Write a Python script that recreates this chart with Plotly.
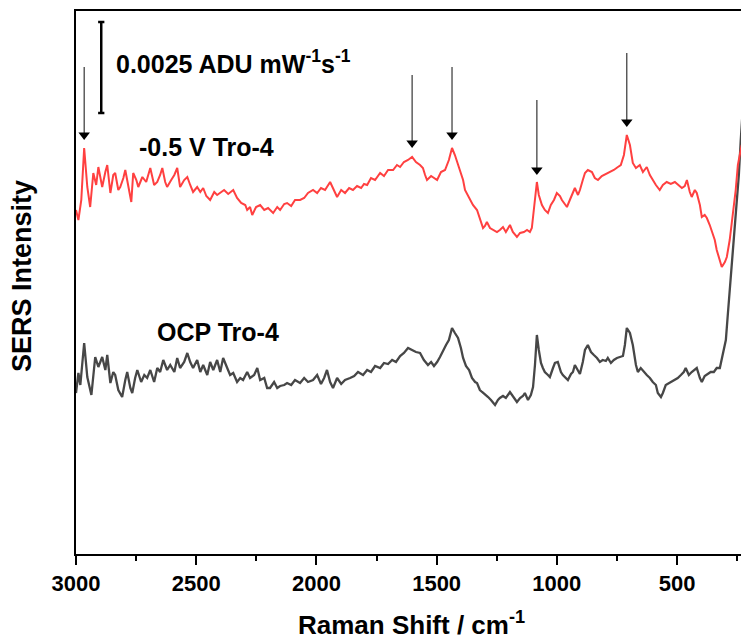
import plotly.graph_objects as go

# ---- data (Raman shift in cm^-1, intensity in arbitrary units; scale bar = 91 units = 0.0025 ADU mW^-1 s^-1)
red_points = [
    (3000, 344), (2990, 334), (2978, 354), (2966, 406), (2953, 367), (2941, 347), (2928, 381), (2916, 369),
    (2907, 387), (2891, 367), (2878, 382), (2870, 389), (2857, 361), (2845, 379), (2837, 381), (2824, 364),
    (2816, 367), (2803, 376), (2795, 384), (2783, 369), (2770, 352), (2762, 381), (2749, 374), (2741, 367),
    (2724, 377), (2708, 372), (2691, 386), (2675, 369), (2662, 372), (2650, 379), (2641, 386), (2629, 372),
    (2621, 367), (2604, 374), (2591, 379), (2579, 386), (2567, 367), (2550, 374), (2537, 377), (2525, 369),
    (2513, 362), (2496, 367), (2483, 362), (2471, 366), (2458, 358), (2442, 354), (2425, 362), (2413, 359),
    (2400, 361), (2384, 364), (2367, 360), (2346, 364), (2330, 356), (2313, 351), (2296, 349), (2288, 344),
    (2276, 347), (2267, 339), (2251, 347), (2234, 349), (2217, 344), (2201, 346), (2180, 341), (2163, 347),
    (2151, 344), (2134, 350), (2122, 351), (2105, 348), (2089, 354), (2068, 354), (2051, 356), (2035, 361),
    (2014, 364), (1997, 361), (1981, 366), (1964, 364), (1943, 372), (1926, 364), (1914, 357), (1897, 364),
    (1881, 361), (1864, 366), (1848, 364), (1831, 368), (1814, 366), (1802, 370), (1789, 369), (1773, 376),
    (1756, 374), (1735, 381), (1719, 378), (1702, 384), (1681, 384), (1665, 389), (1652, 387), (1636, 392),
    (1619, 394), (1602, 397), (1586, 392), (1569, 389), (1557, 386), (1548, 379), (1540, 374), (1523, 378),
    (1511, 376), (1498, 374), (1482, 382), (1465, 384), (1449, 394), (1436, 406), (1424, 399), (1411, 389),
    (1403, 384), (1390, 374), (1382, 364), (1370, 359), (1361, 354), (1349, 349), (1332, 344), (1320, 336),
    (1307, 326), (1299, 328), (1291, 332), (1278, 326), (1266, 324), (1249, 322), (1237, 324), (1224, 327),
    (1212, 322), (1195, 329), (1183, 322), (1166, 317), (1153, 321), (1137, 322), (1124, 324), (1112, 322),
    (1104, 326), (1095, 344), (1083, 372), (1075, 359), (1062, 349), (1050, 344), (1037, 341), (1025, 349),
    (1012, 354), (1000, 361), (987, 358), (979, 354), (966, 349), (958, 347), (946, 354), (933, 362),
    (925, 366), (912, 359), (904, 364), (892, 374), (883, 381), (871, 384), (854, 382), (842, 376),
    (829, 374), (813, 378), (796, 380), (779, 382), (763, 384), (746, 387), (734, 389), (721, 399),
    (709, 419), (696, 409), (684, 391), (671, 386), (655, 389), (642, 382), (626, 387), (613, 379),
    (601, 374), (588, 369), (572, 364), (559, 369), (543, 372), (526, 370), (509, 372), (493, 369),
    (480, 366), (468, 368), (459, 374), (447, 362), (439, 357), (426, 364), (418, 361), (405, 349),
    (397, 337), (385, 339), (376, 336), (364, 329), (356, 324), (343, 314), (335, 304), (322, 294),
    (314, 287), (301, 292), (293, 297), (281, 314), (268, 339), (256, 364), (247, 389), (239, 399),
    (231, 409),
]

gray_points = [
    (3000, 161), (2990, 181), (2982, 169), (2974, 194), (2966, 211), (2953, 177), (2936, 159), (2920, 197),
    (2907, 187), (2891, 197), (2878, 184), (2870, 199), (2857, 171), (2845, 182), (2837, 179), (2824, 164),
    (2808, 157), (2795, 174), (2787, 182), (2774, 166), (2766, 161), (2754, 176), (2745, 184), (2729, 172),
    (2716, 179), (2704, 176), (2691, 184), (2675, 172), (2662, 186), (2650, 182), (2637, 194), (2621, 184),
    (2608, 189), (2591, 182), (2579, 196), (2567, 186), (2550, 192), (2537, 201), (2525, 192), (2513, 186),
    (2496, 194), (2483, 182), (2471, 189), (2454, 179), (2442, 192), (2429, 184), (2413, 194), (2400, 182),
    (2388, 196), (2371, 186), (2359, 179), (2346, 181), (2330, 172), (2317, 176), (2305, 174), (2288, 182),
    (2276, 176), (2259, 179), (2246, 186), (2234, 174), (2217, 176), (2205, 166), (2193, 166), (2176, 172),
    (2163, 166), (2151, 168), (2134, 169), (2122, 171), (2105, 169), (2089, 174), (2068, 171), (2051, 176),
    (2035, 172), (2014, 174), (1997, 179), (1981, 170), (1968, 176), (1956, 184), (1943, 172), (1931, 166),
    (1914, 176), (1897, 170), (1881, 174), (1860, 176), (1843, 178), (1827, 182), (1806, 179), (1789, 184),
    (1773, 182), (1756, 188), (1735, 186), (1719, 191), (1702, 190), (1685, 194), (1669, 192), (1652, 198),
    (1636, 201), (1619, 206), (1602, 204), (1586, 202), (1569, 201), (1553, 194), (1536, 189), (1523, 192),
    (1511, 188), (1498, 192), (1486, 197), (1473, 204), (1461, 209), (1449, 214), (1436, 226), (1424, 221),
    (1411, 216), (1399, 206), (1390, 196), (1378, 188), (1365, 184), (1353, 176), (1340, 172), (1332, 171),
    (1320, 164), (1311, 162), (1299, 160), (1286, 157), (1274, 154), (1257, 149), (1245, 154), (1237, 156),
    (1224, 158), (1212, 156), (1195, 162), (1183, 158), (1166, 152), (1153, 156), (1141, 158), (1133, 161),
    (1120, 154), (1108, 159), (1099, 167), (1091, 189), (1083, 219), (1075, 204), (1066, 191), (1058, 186),
    (1050, 182), (1037, 179), (1029, 177), (1016, 186), (1008, 191), (996, 192), (983, 182), (975, 179),
    (962, 176), (954, 174), (941, 180), (933, 182), (925, 189), (912, 184), (904, 180), (892, 192),
    (883, 204), (871, 209), (858, 202), (846, 199), (833, 196), (821, 192), (809, 194), (796, 193),
    (788, 196), (775, 191), (763, 194), (750, 196), (738, 197), (725, 198), (717, 209), (709, 226),
    (696, 221), (684, 209), (671, 189), (663, 182), (651, 186), (638, 182), (626, 179), (613, 176),
    (601, 172), (588, 169), (580, 161), (567, 157), (559, 161), (547, 169), (534, 171), (522, 172),
    (509, 174), (497, 176), (484, 179), (472, 182), (464, 186), (451, 179), (439, 182), (426, 184),
    (418, 186), (405, 176), (397, 172), (385, 178), (372, 180), (360, 182), (347, 182), (335, 186),
    (322, 186), (314, 194), (306, 204), (297, 214), (289, 239), (281, 264), (268, 304), (256, 339),
    (243, 379), (235, 414), (228, 440),
]

red_shift = [p[0] for p in red_points]
red_int = [p[1] for p in red_points]
gray_shift = [p[0] for p in gray_points]
gray_int = [p[1] for p in gray_points]

# marked peaks: shift, arrow tip intensity, arrow tail intensity
peak_shifts = [2966, 1602, 1436, 1083, 709]
peak_tips = [414, 406, 414, 379, 427]
peak_tails = [487, 479, 487, 454, 501]

# scale bar (x position, bottom, top)
bar_shift = 2895
bar_low, bar_high = 441, 532

x_ticks = [3000, 2500, 2000, 1500, 1000, 500]
X_RANGE = [3000, 234]
Y_RANGE = [0, 543]

FONT = "Arial, Liberation Sans, sans-serif"
HEAD = 5  # arrow-head offset (intensity units) from tip to marker centre

fig = go.Figure()
fig.add_trace(go.Scatter(x=gray_shift, y=gray_int, mode="lines",
                         line=dict(color="#474747", width=2.3), showlegend=False, hoverinfo="skip"))
fig.add_trace(go.Scatter(x=red_shift, y=red_int, mode="lines",
                         line=dict(color="#ff4040", width=2), showlegend=False, hoverinfo="skip"))

# arrow shafts
shaft_x, shaft_y = [], []
for sx, tip, tail in zip(peak_shifts, peak_tips, peak_tails):
    shaft_x += [sx, sx, None]
    shaft_y += [tail, tip + HEAD, None]
fig.add_trace(go.Scatter(x=shaft_x, y=shaft_y, mode="lines", line=dict(color="#222222", width=1.1),
                         showlegend=False, hoverinfo="skip"))
# arrow heads
fig.add_trace(go.Scatter(x=peak_shifts, y=[t + HEAD for t in peak_tips], mode="markers",
                         marker=dict(symbol="triangle-down", size=10, color="black", line=dict(width=0)),
                         showlegend=False, hoverinfo="skip"))

annotations = [
    dict(x=2840, y=492, xref="x", yref="y", xanchor="left", yanchor="middle", showarrow=False,
         text="<b>0.0025 ADU mW<sup>-1</sup>s<sup>-1</sup></b>", font=dict(family=FONT, size=25, color="black")),
    dict(x=2748, y=407, xref="x", yref="y", xanchor="left", yanchor="middle", showarrow=False,
         text="<b>-0.5 V Tro-4</b>", font=dict(family=FONT, size=25, color="black")),
    dict(x=2672, y=222, xref="x", yref="y", xanchor="left", yanchor="middle", showarrow=False,
         text="<b>OCP Tro-4</b>", font=dict(family=FONT, size=25, color="black")),
    dict(x=-0.081, y=0.512, xref="paper", yref="paper", xanchor="center", yanchor="middle",
         showarrow=False, textangle=-90, text="<b>SERS Intensity</b>",
         font=dict(family=FONT, size=27, color="black")),
    dict(x=0.504, y=-0.128, xref="paper", yref="paper", xanchor="center", yanchor="middle",
         showarrow=False, text="<b>Raman Shift / cm<sup>-1</sup></b>",
         font=dict(family=FONT, size=26, color="black")),
]

shapes = [
    dict(type="line", xref="x", yref="y", x0=bar_shift, x1=bar_shift, y0=bar_low, y1=bar_high,
         line=dict(color="black", width=2.5)),
    dict(type="line", xref="x", yref="y", x0=bar_shift + 13, x1=bar_shift - 13, y0=bar_low, y1=bar_low,
         line=dict(color="black", width=2.5)),
    dict(type="line", xref="x", yref="y", x0=bar_shift + 13, x1=bar_shift - 13, y0=bar_high, y1=bar_high,
         line=dict(color="black", width=2.5)),
]

fig.update_layout(
    width=741, height=644,
    margin=dict(l=76, r=0, t=11, b=90),
    paper_bgcolor="white", plot_bgcolor="white",
    annotations=annotations, shapes=shapes,
    font=dict(family=FONT, color="black"),
)
fig.update_xaxes(range=X_RANGE, tickvals=x_ticks, ticktext=[f"<b>{t}</b>" for t in x_ticks],
                 showgrid=False, zeroline=False, showline=True, linecolor="black", linewidth=2,
                 mirror=True, ticks="outside", ticklen=9, tickwidth=2, tickcolor="black",
                 tickfont=dict(family=FONT, size=22, color="black"),
                 minor=dict(tickvals=[2750, 2250, 1750, 1250, 750, 250], ticks="outside",
                            ticklen=5, tickwidth=2, tickcolor="black"))
fig.update_yaxes(range=Y_RANGE, showgrid=False, zeroline=False, showline=True, linecolor="black",
                 linewidth=2, showticklabels=False, ticks="")

fig.write_html("out.html")
